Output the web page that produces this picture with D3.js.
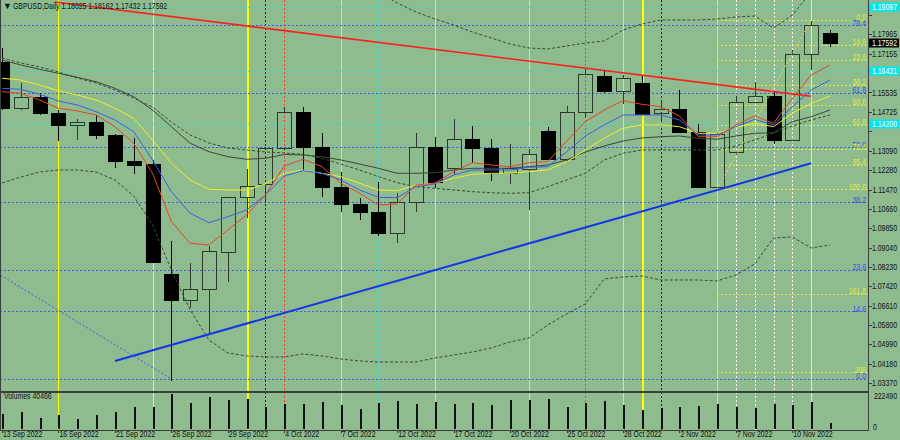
<!DOCTYPE html>
<html><head><meta charset="utf-8">
<script src="https://cdn.jsdelivr.net/npm/d3@7"></script>
<style>
html,body{margin:0;padding:0;background:#8fbc8f;overflow:hidden;}
svg{display:block;}
text{font-family:"Liberation Sans",Arial,sans-serif;font-size:9px;}
</style></head><body>
<svg id="c" width="900" height="440"></svg>
<script>
// ---------------- DATA ----------------
const symbol = "GBPUSD,Daily";
const dates = ["13 Sep 2022","14 Sep 2022","15 Sep 2022","16 Sep 2022","19 Sep 2022","20 Sep 2022","21 Sep 2022","22 Sep 2022","23 Sep 2022","26 Sep 2022","27 Sep 2022","28 Sep 2022","29 Sep 2022","30 Sep 2022","3 Oct 2022","4 Oct 2022","5 Oct 2022","6 Oct 2022","7 Oct 2022","10 Oct 2022","11 Oct 2022","12 Oct 2022","13 Oct 2022","14 Oct 2022","17 Oct 2022","18 Oct 2022","19 Oct 2022","20 Oct 2022","21 Oct 2022","24 Oct 2022","25 Oct 2022","26 Oct 2022","27 Oct 2022","28 Oct 2022","31 Oct 2022","1 Nov 2022","2 Nov 2022","3 Nov 2022","4 Nov 2022","7 Nov 2022","8 Nov 2022","9 Nov 2022","10 Nov 2022","11 Nov 2022","14 Nov 2022"];
const open  = [1.16820,1.14895,1.15355,1.14661,1.14171,1.14309,1.13765,1.12676,1.12538,1.07934,1.06833,1.07294,1.08855,1.11144,1.11689,1.13221,1.14702,1.13237,1.11588,1.10864,1.10517,1.09637,1.10948,1.13250,1.12383,1.13572,1.13196,1.12149,1.12329,1.13932,1.12748,1.14702,1.16234,1.15594,1.15916,1.14661,1.14828,1.13865,1.11563,1.13053,1.15121,1.15397,1.13543,1.17143,1.18025];
const high  = [1.17394,1.15916,1.15498,1.14799,1.14422,1.14589,1.13794,1.13639,1.12706,1.09315,1.08382,1.09119,1.11144,1.12329,1.13262,1.14937,1.14937,1.13848,1.12216,1.11128,1.11772,1.11312,1.13823,1.13656,1.14409,1.14129,1.13585,1.13375,1.13154,1.14100,1.14979,1.16515,1.16444,1.16264,1.16234,1.15217,1.15636,1.14213,1.13890,1.15385,1.15983,1.15565,1.17310,1.18537,1.18162];
const low   = [1.14799,1.14799,1.14589,1.13514,1.13543,1.13572,1.12358,1.12107,1.08394,1.03455,1.06523,1.05452,1.07612,1.10265,1.10893,1.13124,1.12287,1.11144,1.10542,1.10194,1.09525,1.09219,1.10542,1.11521,1.12078,1.12568,1.11839,1.11689,1.10613,1.12706,1.12622,1.14518,1.15498,1.15050,1.14631,1.14380,1.13865,1.11521,1.11521,1.12915,1.15092,1.13363,1.13543,1.16473,1.17432];
const close = [1.14895,1.15355,1.14661,1.14171,1.14309,1.13765,1.12676,1.12509,1.08424,1.06846,1.07294,1.08884,1.11144,1.11630,1.13221,1.14702,1.13237,1.11588,1.10864,1.10517,1.09637,1.10948,1.13250,1.11772,1.13572,1.13196,1.12149,1.12358,1.12944,1.12748,1.14702,1.16293,1.15594,1.16126,1.14631,1.14828,1.13865,1.11563,1.13794,1.15121,1.15397,1.13543,1.17143,1.18357,1.17592];
const volume = [93750,108000,72500,91250,62500,87500,108000,139400,141250,222490,164400,203750,185000,187500,141250,160000,158100,170600,151900,128750,166250,175000,160000,170600,156250,164400,153750,181250,183100,189400,141250,166250,176900,153750,118750,135000,139400,145600,158100,141250,133100,160000,150000,170600,40466];

const maRed    = [1.15565,1.15498,1.15217,1.14870,1.14757,1.14589,1.14100,1.13405,1.12149,1.10123,1.09219,1.09148,1.09776,1.10404,1.11241,1.12455,1.12735,1.12425,1.11730,1.11312,1.10822,1.10864,1.11659,1.11730,1.12216,1.12593,1.12496,1.12425,1.12593,1.12635,1.13501,1.14309,1.14799,1.15188,1.15037,1.14937,1.14548,1.13681,1.13681,1.14171,1.14548,1.14242,1.15288,1.16264,1.16682];
const maBlue   = [1.15707,1.15665,1.15456,1.15175,1.15008,1.14727,1.14380,1.13890,1.12706,1.11379,1.10475,1.10081,1.10332,1.10613,1.11241,1.12036,1.12258,1.12149,1.11869,1.11450,1.11144,1.11128,1.11588,1.11701,1.12078,1.12287,1.12287,1.12287,1.12400,1.12425,1.13041,1.13710,1.14171,1.14589,1.14589,1.14589,1.14380,1.13752,1.13752,1.14100,1.14409,1.14171,1.14937,1.15636,1.16054];
const maYellow = [1.16126,1.16054,1.15845,1.15607,1.15427,1.15217,1.14870,1.14451,1.13543,1.12568,1.11869,1.11479,1.11450,1.11450,1.11701,1.12149,1.12287,1.12149,1.12007,1.11730,1.11450,1.11421,1.11659,1.11730,1.11940,1.12107,1.12149,1.12149,1.12216,1.12287,1.12622,1.13124,1.13614,1.14033,1.14171,1.14171,1.14100,1.13823,1.13823,1.14075,1.14242,1.14100,1.14661,1.15079,1.15385];
const maGray   = [1.16892,1.16682,1.16502,1.16335,1.16167,1.15983,1.15707,1.15355,1.14799,1.14100,1.13405,1.13053,1.12844,1.12735,1.12777,1.12936,1.12915,1.12844,1.12706,1.12538,1.12358,1.12149,1.12149,1.12174,1.12287,1.12358,1.12358,1.12358,1.12425,1.12496,1.12706,1.13041,1.13292,1.13501,1.13627,1.13681,1.13710,1.13614,1.13572,1.13710,1.13823,1.13848,1.14309,1.14518,1.14799];
const bbMid    = [1.16975,1.16766,1.16599,1.16389,1.16138,1.15929,1.15636,1.15301,1.14924,1.14296,1.13752,1.13417,1.13208,1.13124,1.13041,1.12999,1.12944,1.12777,1.12538,1.12287,1.12007,1.11756,1.11588,1.11521,1.11450,1.11379,1.11337,1.11312,1.11337,1.11588,1.11869,1.12149,1.12706,1.12986,1.13124,1.13124,1.13124,1.13124,1.13124,1.13292,1.13543,1.13836,1.14129,1.14380,1.14589];
const bbUpper  = [1.22208,1.21914,1.21705,1.21287,1.20659,1.19822,1.19612,1.19612,1.19863,1.20449,1.21077,1.21496,1.21789,1.21747,1.21621,1.21538,1.21329,1.20994,1.20701,1.20240,1.19738,1.19277,1.18901,1.18608,1.18357,1.18064,1.17812,1.17561,1.17394,1.17352,1.17478,1.17603,1.17687,1.18147,1.18398,1.18566,1.18566,1.18566,1.18608,1.18691,1.18733,1.18231,1.18775,1.19738,1.20031];
const bbLower  = [1.11743,1.11994,1.12203,1.12287,1.12287,1.12203,1.11869,1.11199,1.09985,1.08101,1.06427,1.05171,1.04627,1.04502,1.04460,1.04460,1.04585,1.04502,1.04376,1.04292,1.04250,1.04250,1.04250,1.04418,1.04543,1.04669,1.04836,1.05088,1.05255,1.05799,1.06260,1.06678,1.07725,1.07808,1.07850,1.07683,1.07683,1.07683,1.07641,1.07892,1.08353,1.09441,1.09483,1.09022,1.09148];

const priceTicks = [1.18775,1.17965,1.17155,1.16345,1.15535,1.14725,1.13900,1.13090,1.12280,1.11470,1.10660,1.09850,1.09040,1.08230,1.07420,1.06610,1.05800,1.04990,1.04180,1.03370];
const volumeTicks = [222490, 0];
const dateTickEvery = 3;

// Fibonacci retracements
const fibBlueLevels = [0, 14.6, 23.6, 38.2, 50.0, 61.8, 76.4];
const fibBluePrices = [1.03539, 1.22919];          // 0% and 100% prices
const fibBlueAnchors = [9, -31.5];                  // bar index of 0% and 100% points
const fibYellowLevels = [0, 14.6, 23.6, 38.2, 50.0, 61.8, 76.4, 85.4, 100.0, 161.8, 208];
const fibYellowLabels = ["0.0","14.6","23.6","38.2","50.0","61.8","76.4","85.4","100.0","161.8","208"];
const fibYellowPrices = [1.18566, 1.11479];        // 0% and 100%
const fibYellowAnchors = [43, 38];
const cyanLevels = [1.19097, 1.16431, 1.14200];

// Trend lines: [bar index, price]
const redTrend  = [[2.8, 1.19320], [43, 1.15372]];
const blueTrend = [[6, 1.04292], [43, 1.12568]];

// Vertical lines by date
const vYellow     = ["16 Sep 2022","23 Sep 2022","30 Sep 2022","31 Oct 2022","11 Nov 2022"];
const vYellowWide = ["30 Sep 2022","31 Oct 2022"];
const vPale       = ["7 Oct 2022","14 Oct 2022","21 Oct 2022","28 Oct 2022","4 Nov 2022"];
const vRedDot     = ["4 Oct 2022","26 Oct 2022"];
const vBlackDot   = ["3 Oct 2022","1 Nov 2022"];
const vCyanDot    = ["11 Oct 2022"];
const vWhiteDot   = ["7 Nov 2022","8 Nov 2022","9 Nov 2022","10 Nov 2022"];

// ---------------- DRAW ----------------
const W = 900, H = 440, plotR = 868, mainB = 391, volB = 430;
const svg = d3.select('#c');
const n = dates.length;
const x = d3.scaleLinear().domain([0, n - 1]).range([2, 830]);
const y = d3.scaleLinear().domain([1.18775, 1.03370]).range([15, 383]);
const yv = d3.scaleLinear().domain([0, 222490]).range([429.3, 393.7]);
const px = v => Math.round(v) + 0.5;
const idx = d => dates.indexOf(d);
const fmt = d3.format('.5f');

svg.append('rect').attr('width', W).attr('height', H).attr('fill', '#8fbc8f');
const defs = svg.append('defs');
defs.append('clipPath').attr('id', 'mainClip').append('rect').attr('x', 0).attr('y', 0).attr('width', plotR).attr('height', mainB);
defs.append('clipPath').attr('id', 'allClip').append('rect').attr('x', 0).attr('y', 0).attr('width', plotR).attr('height', volB);

const gAll = svg.append('g').attr('clip-path', 'url(#allClip)');
const g = svg.append('g').attr('clip-path', 'url(#mainClip)');

// horizontal level lines
const hl = g.append('g').attr('shape-rendering', 'crispEdges');
const fibBlue = l => fibBluePrices[0] + (fibBluePrices[1] - fibBluePrices[0]) * l / 100;
const fibYel = l => fibYellowPrices[0] + (fibYellowPrices[1] - fibYellowPrices[0]) * l / 100;
hl.selectAll('.bf').data(fibBlueLevels).join('line')
  .attr('x1', 0).attr('x2', plotR).attr('y1', l => px(y(fibBlue(l)))).attr('y2', l => px(y(fibBlue(l))))
  .attr('stroke', '#3d5ee8').attr('stroke-dasharray', '2,2');
hl.selectAll('.cy').data(cyanLevels).join('line')
  .attr('x1', 0).attr('x2', plotR).attr('y1', p => px(y(p))).attr('y2', p => px(y(p)))
  .attr('stroke', '#36dcd0').attr('stroke-dasharray', '2,2');
hl.selectAll('.yf').data(fibYellowLevels).join('line')
  .attr('x1', x(fibYellowAnchors[1])).attr('x2', plotR).attr('y1', l => px(y(fibYel(l)))).attr('y2', l => px(y(fibYel(l))))
  .attr('stroke', '#e4e43c').attr('stroke-dasharray', '2,2');

// vertical lines (through both panels)
const vl = gAll.append('g').attr('shape-rendering', 'crispEdges');
function vlines(list, color, dash, width) {
  vl.selectAll(null).data(list).join('line')
    .attr('x1', d => px(x(idx(d)))).attr('x2', d => px(x(idx(d))))
    .attr('y1', 0).attr('y2', volB)
    .attr('stroke', color).attr('stroke-width', d => (width ? width(d) : 1))
    .attr('stroke-dasharray', dash);
}
vlines(vPale, '#dfe84c', null);
vlines(vYellow, '#ffff00', null, d => vYellowWide.includes(d) ? 2 : 1);
vlines(vRedDot, '#ff3a3a', '2,2');
vlines(vBlackDot, '#1e261e', '2,2');
vlines(vCyanDot, '#38e0e0', '2,2');
vlines(vWhiteDot, '#f2f2f2', '2,2');

// candles
const cg = g.append('g').attr('shape-rendering', 'crispEdges');
const bodyW = 14;
d3.range(n).forEach(i => {
  const xc = px(x(i));
  const bull = close[i] >= open[i];
  const top = y(Math.max(open[i], close[i])), bot = y(Math.min(open[i], close[i]));
  const col = bull ? '#2c3a2c' : '#000';
  cg.append('line').attr('x1', xc).attr('x2', xc).attr('y1', Math.round(y(high[i]))).attr('y2', Math.round(top)).attr('stroke', col);
  cg.append('line').attr('x1', xc).attr('x2', xc).attr('y1', Math.round(bot)).attr('y2', Math.round(y(low[i]))).attr('stroke', col);
  cg.append('rect').attr('x', Math.round(x(i) - bodyW / 2) + 0.5).attr('y', Math.round(top) + 0.5)
    .attr('width', bodyW).attr('height', Math.max(1, Math.round(bot) - Math.round(top)))
    .attr('fill', bull ? 'none' : '#000').attr('stroke', col);
});

// indicator lines
const line = d3.line().x((d, i) => x(i)).y(d => y(d));
const ig = g.append('g').attr('fill', 'none');
ig.append('path').datum(bbUpper).attr('d', line).attr('stroke', '#3b4a3b').attr('stroke-dasharray', '3,2');
ig.append('path').datum(bbLower).attr('d', line).attr('stroke', '#3b4a3b').attr('stroke-dasharray', '3,2');
ig.append('path').datum(bbMid).attr('d', line).attr('stroke', '#3b4a3b').attr('stroke-dasharray', '3,2');
ig.append('path').datum(maGray).attr('d', line).attr('stroke', '#3a473a');
ig.append('path').datum(maYellow).attr('d', line).attr('stroke', '#eeee2a');
ig.append('path').datum(maBlue).attr('d', line).attr('stroke', '#3c5ee6');
ig.append('path').datum(maRed).attr('d', line).attr('stroke', '#e8432c');

// trend lines and fib diagonals
const tl = d3.line().x(d => x(d[0])).y(d => y(d[1]));
g.append('path').datum(redTrend).attr('d', tl).attr('stroke', '#ff1e1e').attr('stroke-width', 1.6).attr('fill', 'none');
g.append('path').datum(blueTrend).attr('d', tl).attr('stroke', '#1436e6').attr('stroke-width', 2).attr('fill', 'none');
g.append('path').datum([[fibBlueAnchors[1], fibBluePrices[1]], [fibBlueAnchors[0], fibBluePrices[0]]]).attr('d', tl)
  .attr('stroke', '#3d5ee8').attr('stroke-dasharray', '2,2').attr('fill', 'none');
g.append('path').datum([[fibYellowAnchors[1], fibYellowPrices[1]], [fibYellowAnchors[0], fibYellowPrices[0]]]).attr('d', tl)
  .attr('stroke', '#e4e43c').attr('stroke-dasharray', '2,2').attr('fill', 'none');

// fib labels
const lab = svg.append('g');
lab.selectAll('.bl').data(fibBlueLevels).join('text')
  .attr('x', 866).attr('y', l => y(fibBlue(l)) + 0.5).attr('text-anchor', 'end')
  .attr('fill', '#2f52e8').text(l => l.toFixed(1));
lab.selectAll('.yl').data(fibYellowLevels).join('text')
  .attr('x', 866).attr('y', l => y(fibYel(l)) + 0.5).attr('text-anchor', 'end')
  .attr('fill', '#e8e83a').text((l, i) => fibYellowLabels[i]);

// volume bars
const vg = svg.append('g').attr('shape-rendering', 'crispEdges');
vg.selectAll('line').data(volume).join('line')
  .attr('x1', (d, i) => Math.round(x(i)) + 0.5).attr('x2', (d, i) => Math.round(x(i)) + 0.5)
  .attr('y1', yv(0)).attr('y2', d => Math.round(yv(d)))
  .attr('stroke', '#111').attr('stroke-width', 2);

// frame
const fr = svg.append('g').attr('shape-rendering', 'crispEdges').attr('stroke', '#3a3f3a');
fr.append('line').attr('x1', plotR + 0.5).attr('x2', plotR + 0.5).attr('y1', 0).attr('y2', volB + 1).attr('stroke-width', 1.5);
fr.append('line').attr('x1', 0).attr('x2', plotR).attr('y1', mainB + 0.5).attr('y2', mainB + 0.5).attr('stroke-width', 2);
fr.append('line').attr('x1', 0).attr('x2', plotR).attr('y1', volB + 0.5).attr('y2', volB + 0.5).attr('stroke-width', 1.5);
fr.append('line').attr('x1', 0.5).attr('x2', 0.5).attr('y1', 0).attr('y2', volB).attr('stroke-width', 1);

// price axis (labels hidden under a level box are not drawn, as in the terminal)
const AXR = 897;
const boxed = [...cyanLevels, close[n - 1]].map(p => y(p));
const visibleTicks = priceTicks.filter(p => boxed.every(b => Math.abs(y(p) - b) > 8));
const ax = svg.append('g');
ax.selectAll('line').data(priceTicks).join('line')
  .attr('x1', plotR).attr('x2', plotR + 4).attr('y1', p => px(y(p))).attr('y2', p => px(y(p)))
  .attr('stroke', '#3a3f3a').attr('shape-rendering', 'crispEdges');
ax.selectAll('text').data(visibleTicks).join('text')
  .attr('x', AXR).attr('y', p => y(p)).attr('dy', '0.35em').attr('text-anchor', 'end').attr('fill', '#111').text(p => fmt(p));
cyanLevels.forEach(p => {
  ax.append('rect').attr('x', 869).attr('y', Math.round(y(p)) - 4.5).attr('width', 30).attr('height', 9).attr('fill', '#00e6ee');
  ax.append('text').attr('x', AXR).attr('y', y(p)).attr('dy', '0.35em').attr('text-anchor', 'end').attr('fill', '#fff').text(fmt(p));
});
const last = close[n - 1];
ax.append('rect').attr('x', 869).attr('y', Math.round(y(last)) - 4.5).attr('width', 30).attr('height', 9).attr('fill', '#000');
ax.append('text').attr('x', AXR).attr('y', y(last)).attr('dy', '0.35em').attr('text-anchor', 'end').attr('fill', '#fff').text(fmt(last));

// volume axis
ax.selectAll('.vt').data(volumeTicks).join('text')
  .attr('x', d => d === 0 ? 873 : AXR).attr('text-anchor', d => d === 0 ? 'start' : 'end')
  .attr('y', d => d === 0 ? 427 : 395.5).attr('dy', '0.35em').attr('fill', '#111').text(d => d);

// date axis
const dIdx = d3.range(0, n, dateTickEvery);
ax.selectAll('.dt').data(dIdx).join('line')
  .attr('x1', i => px(x(i))).attr('x2', i => px(x(i))).attr('y1', volB).attr('y2', volB + 3)
  .attr('stroke', '#3a3f3a').attr('shape-rendering', 'crispEdges');
ax.selectAll('.dl').data(dIdx).join('text')
  .attr('x', i => x(i) + 1).attr('y', 437.5).attr('fill', '#111').text(i => dates[i]);

// header & volume caption
svg.append('text').attr('class', 'keep').attr('x', 3).attr('y', 8.5).attr('font-size', 6).attr('fill', '#111').text('▼');
svg.append('text').attr('x', 13).attr('y', 9).attr('fill', '#111')
  .text(`${symbol} ${fmt(open[n-1])} ${fmt(high[n-1])} ${fmt(low[n-1])} ${fmt(close[n-1])}`);
svg.append('text').attr('x', 4).attr('y', 399).attr('fill', '#111').text(`Volumes ${volume[n-1]}`);

// condense all text horizontally around its anchor (terminal font is narrow)
const SX = 0.77;
svg.selectAll('text').filter(function(){ return this.getAttribute('class') !== 'keep'; }).each(function() {
  const x0 = +this.getAttribute('x');
  d3.select(this).attr('transform', `translate(${x0},0) scale(${SX},1) translate(${-x0},0)`);
});
</script>
</body></html>
